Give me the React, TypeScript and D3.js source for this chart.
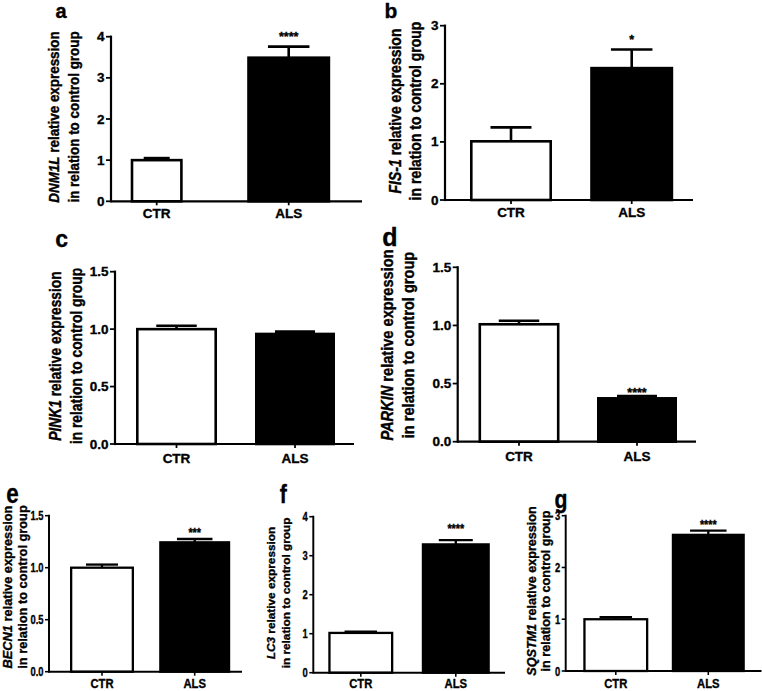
import React from 'react';
import * as d3 from 'd3';

// ---------- data ----------
const groups = ['CTR', 'ALS'];
const panelLetters = ['a', 'b', 'c', 'd', 'e', 'f', 'g'];
const genes = ['DNM1L', 'FIS-1', 'PINK1', 'PARKIN', 'BECN1', 'LC3', 'SQSTM1'];
const ctrMean = [1.0, 1.01, 1.0, 1.01, 1.0, 1.02, 1.0];
const ctrSem = [0.05, 0.24, 0.03, 0.03, 0.03, 0.03, 0.04];
const alsMean = [3.49, 2.27, 0.958, 0.373, 1.244, 3.29, 2.63];
const alsSem = [0.27, 0.32, 0.02, 0.02, 0.032, 0.11, 0.08];
const significance = ['****', '*', '', '****', '***', '****', '****'];
const yMax = [4, 3, 1.5, 1.5, 1.5, 4, 3];
const tickStep = [1, 1, 0.5, 0.5, 0.5, 1, 1];
const labelRest = ' relative expression';
const labelLine2 = 'in relation to control group';

// ---------- layout (positions / styles only) ----------
type Layout = {
  left: number; right: number; bottom: number; top: number;
  cx: [number, number]; bw: [number, number];
  letter: { x: number; y: number; size: number; sx: number };
  yl: { x1: number; x2: number; y: number; size: number; sx: number };
  xLabY: number; starY: number; tickSx: number;
  tickFont: number; xLabFont: number; starFont: number; lw: number; tickLen: number;
  xLabSx: number;
};

const top = { tickSx: 1, tickFont: 13.5, xLabFont: 13.5, starFont: 12.5, lw: 2.6, tickLen: 5, xLabSx: 1 };
const bot = { tickSx: 0.75, tickFont: 12.5, xLabFont: 12.5, starFont: 12, lw: 2.3, tickLen: 4, xLabSx: 0.9 };

const layouts: Layout[] = [
  { ...top, left: 111, right: 362, bottom: 201.3, top: 36.7, cx: [156.7, 288.7], bw: [52, 83],
    letter: { x: 61, y: 17.5, size: 20, sx: 1 }, yl: { x1: 54, x2: 74, y: 117, size: 13.4, sx: 1.15 }, xLabY: 213, starY: 33.5 },
  { ...top, left: 445, right: 693, bottom: 200, top: 25.7, cx: [511, 631.7], bw: [82, 83],
    letter: { x: 391, y: 18, size: 21, sx: 1 }, yl: { x1: 395, x2: 415, y: 111, size: 14, sx: 1.15 }, xLabY: 212.5, starY: 37 },
  { ...top, left: 115, right: 354, bottom: 444, top: 271.7, cx: [176.5, 295], bw: [81, 80],
    letter: { x: 61.7, y: 247, size: 23, sx: 1 }, yl: { x1: 56, x2: 76.5, y: 356, size: 13.8, sx: 1.15 }, xLabY: 458.3, starY: 320 },
  { ...top, left: 457.7, right: 696, bottom: 441.7, top: 267.3, cx: [519, 637], bw: [81, 80],
    letter: { x: 390, y: 246, size: 25, sx: 1 }, yl: { x1: 387, x2: 408, y: 345, size: 14.6, sx: 1.12 }, xLabY: 456, starY: 390 },
  { ...bot, left: 49, right: 242, bottom: 671.7, top: 515.7, cx: [102, 194.7], bw: [64, 71],
    letter: { x: 12.5, y: 503, size: 28, sx: 0.8 }, yl: { x1: 7, x2: 22, y: 587, size: 12.8, sx: 1 }, xLabY: 683.5, starY: 530 },
  { ...bot, left: 313.3, right: 505, bottom: 672.7, top: 516.7, cx: [360.8, 455.8], bw: [65, 68],
    letter: { x: 283.3, y: 503.3, size: 25, sx: 0.85 }, yl: { x1: 271, x2: 285.5, y: 593, size: 11.8, sx: 1 }, xLabY: 684, starY: 526 },
  { ...bot, left: 565.7, right: 761.5, bottom: 671, top: 515.7, cx: [615.8, 708.3], bw: [65, 73],
    letter: { x: 561, y: 508, size: 25, sx: 0.85 }, yl: { x1: 532, x2: 546, y: 591, size: 12.6, sx: 1 }, xLabY: 684, starY: 521.7 },
];

const FONT = '"Liberation Sans", Arial, Helvetica, sans-serif';
const TEXT_STROKE = 0.35;

function Panel({ i }: { i: number }) {
  const L = layouts[i];
  const y = d3.scaleLinear().domain([0, yMax[i]]).range([L.bottom, L.top]);
  const x = d3.scalePoint<string>().domain(groups).range(L.cx).padding(0);
  const ticks = d3.range(0, yMax[i] + 1e-9, tickStep[i]);
  const fmt = tickStep[i] < 1 ? d3.format('.1f') : d3.format('d');
  const means = [ctrMean[i], alsMean[i]];
  const sems = [ctrSem[i], alsSem[i]];
  const axisW = L.lw * 0.85;

  return (
    <g>
      <g fontFamily={FONT} fontWeight="bold" fill="#000" stroke="#000" strokeWidth={TEXT_STROKE}>
        {/* panel letter */}
        <text transform={`translate(${L.letter.x},${L.letter.y}) scale(${L.letter.sx},1)`}
          textAnchor="middle" fontSize={L.letter.size}>{panelLetters[i]}</text>

        {/* y label */}
        <text transform={`translate(${L.yl.x1},${L.yl.y}) rotate(-90) scale(1,${L.yl.sx})`}
          textAnchor="middle" dominantBaseline="central" fontSize={L.yl.size}>
          <tspan fontStyle="italic">{genes[i]}</tspan>{labelRest}
        </text>
        <text transform={`translate(${L.yl.x2},${L.yl.y}) rotate(-90) scale(1,${L.yl.sx})`}
          textAnchor="middle" dominantBaseline="central" fontSize={L.yl.size}>{labelLine2}</text>

        {/* significance */}
        {significance[i] && (
          <text transform={`translate(${x('ALS')},${L.starY + 0.58 * L.starFont}) scale(${L.xLabSx},1)`}
            textAnchor="middle" fontSize={L.starFont}>{significance[i]}</text>
        )}

        {ticks.map((t) => (
          <text key={t} transform={`translate(${L.left - L.tickLen - 1.5},${y(t)}) scale(${L.tickSx},1)`}
            textAnchor="end" dominantBaseline="central" fontSize={L.tickFont}>{fmt(t)}</text>
        ))}
        {groups.map((g) => (
          <text key={g} transform={`translate(${x(g)},${L.xLabY}) scale(${L.xLabSx},1)`}
            textAnchor="middle" dominantBaseline="central" fontSize={L.xLabFont}>{g}</text>
        ))}
      </g>

      {/* bars */}
      {groups.map((g, k) => {
        const cx = x(g) as number;
        const w = L.bw[k];
        return (
          <rect key={g} x={cx - w / 2 + L.lw / 2} y={y(means[k])} width={w - L.lw}
            height={L.bottom - y(means[k])}
            fill={k === 0 ? '#fff' : '#000'} stroke="#000" strokeWidth={L.lw} />
        );
      })}

      {/* error bars */}
      {groups.map((g, k) => {
        const cx = x(g) as number;
        const capW = L.bw[k] * 0.5;
        const yTop = y(means[k] + sems[k]);
        return (
          <g key={g} stroke="#000" strokeWidth={L.lw}>
            <line x1={cx} x2={cx} y1={y(means[k])} y2={yTop} />
            <line x1={cx - capW / 2} x2={cx + capW / 2} y1={yTop} y2={yTop} />
          </g>
        );
      })}

      {/* axes */}
      <line x1={L.left} x2={L.left} y1={L.top - axisW / 2} y2={L.bottom + axisW / 2} stroke="#000" strokeWidth={axisW} />
      <line x1={L.left} x2={L.right} y1={L.bottom} y2={L.bottom} stroke="#000" strokeWidth={axisW} />
      {ticks.map((t) => (
        <line key={t} x1={L.left - L.tickLen} x2={L.left} y1={y(t)} y2={y(t)} stroke="#000" strokeWidth={axisW * 0.8} />
      ))}
      {groups.map((g) => (
        <line key={g} x1={x(g)} x2={x(g)} y1={L.bottom} y2={L.bottom + 4} stroke="#000" strokeWidth={axisW * 0.8} />
      ))}
    </g>
  );
}

export default function App() {
  return (
    <svg width={762} height={691} viewBox="0 0 762 691"
      style={{ position: 'absolute', left: 0, top: 0, background: '#fff' }}>
      <rect width={762} height={691} fill="#fff" />
      {panelLetters.map((_, i) => <Panel key={i} i={i} />)}
    </svg>
  );
}
